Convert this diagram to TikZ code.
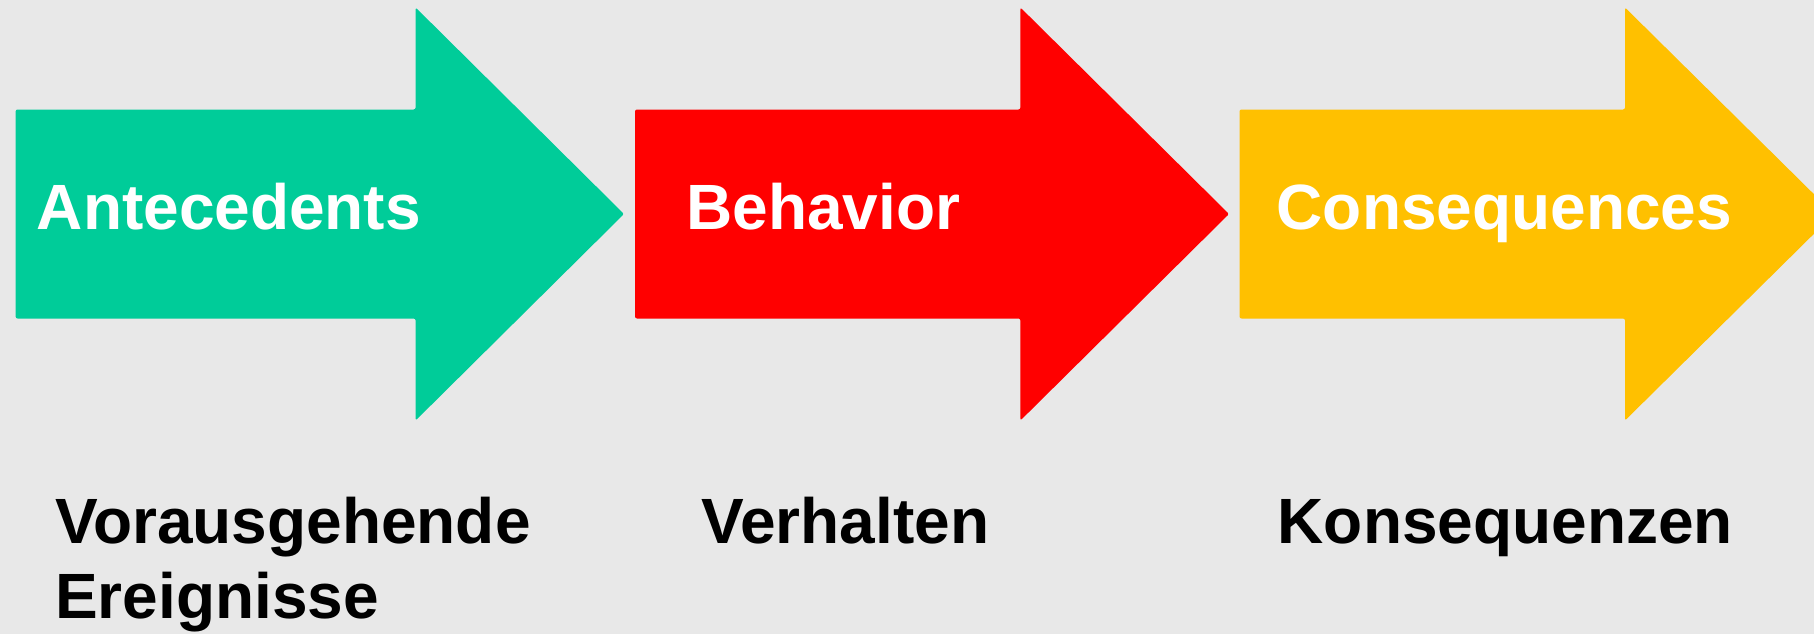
\documentclass[tikz,border=0pt]{standalone}
\usepackage{fontspec}
\setmainfont{Liberation Sans}
\definecolor{bgc}{HTML}{E8E8E8}
\definecolor{agreen}{HTML}{00CC99}
\definecolor{ared}{HTML}{FF0000}
\definecolor{ayellow}{HTML}{FFC000}
\tikzset{
  bigarrow/.style={rounded corners=2pt},
  intext/.style={inner sep=0pt, anchor=base west, text=white, font=\fontsize{64}{75}\bfseries\selectfont},
  outtext/.style={inner sep=0pt, anchor=base west, text=black, font=\fontsize{64}{75}\bfseries\selectfont, align=left},
}
\begin{document}
\begin{tikzpicture}[x=1pt,y=-1pt]
\useasboundingbox (0,0) rectangle (1814,634);
\fill[bgc] (0,0) rectangle (1814,634);
\clip (0,0) rectangle (1814,634);
% green arrow
\fill[agreen,bigarrow] (15.6,109.5) -- (415.6,109.5) -- (415.6,7.5) -- (624,214) -- (415.6,420.5) -- (415.6,318.5) -- (15.6,318.5) -- cycle;
% red arrow
\fill[ared,bigarrow] (635,109.5) -- (1020.4,109.5) -- (1020.4,7.5) -- (1229,214) -- (1020.4,420.5) -- (1020.4,318.5) -- (635,318.5) -- cycle;
% yellow arrow
\fill[ayellow,bigarrow] (1239.5,109.5) -- (1625,109.5) -- (1625,7.5) -- (1834,214) -- (1625,420.5) -- (1625,318.5) -- (1239.5,318.5) -- cycle;
% labels
\node[intext] (ante) at (36.6,229) {Antecedents};
\node[intext] (beh) at (686,229) {Behavior};
\node[intext] (cons) at (1276.5,229) {Consequences};
\node[outtext] (vor) at (55,618) {Vorausgehende\\Ereignisse};
\node[outtext] (ver) at (701,543) {Verhalten};
\node[outtext] (kon) at (1277.5,543) {Konsequenzen};
\end{tikzpicture}
\end{document}
